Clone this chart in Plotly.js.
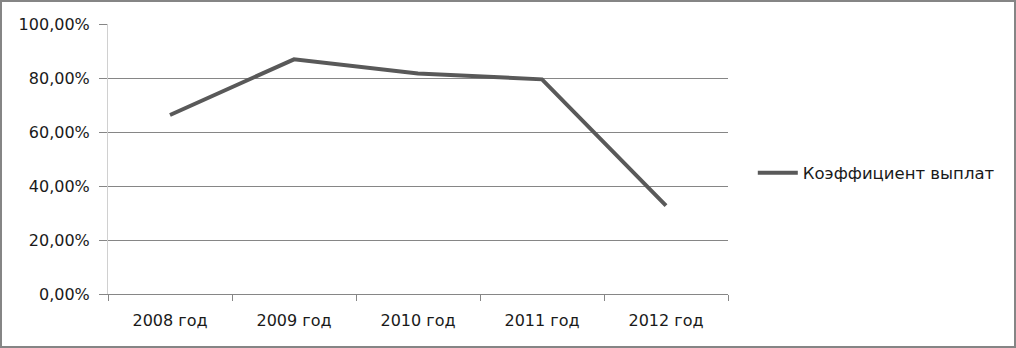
<!DOCTYPE html>
<html>
<head>
<meta charset="utf-8">
<script src="https://cdn.plot.ly/plotly-3.0.1.min.js"></script>
<style>
html,body{margin:0;padding:0;background:#fff;}
#wrap{position:relative;width:1016px;height:348px;}
#chart{width:1016px;height:348px;}
#frame{position:absolute;left:0;top:0;width:1012px;height:344px;border:2px solid #858585;pointer-events:none;}
</style>
</head>
<body>
<div id="wrap"><div id="chart"></div><div id="frame"></div></div>
<script>
const categories = ["2008 год", "2009 год", "2010 год", "2011 год", "2012 год"];
const seriesName = "Коэффициент выплат";
const payoutRatio = [0.663, 0.869, 0.817, 0.795, 0.327];
const yTickValues = [0, 0.2, 0.4, 0.6, 0.8, 1.0];
const yTickLabels = ["0,00%", "20,00%", "40,00%", "60,00%", "80,00%", "100,00%"];

const tf = {family: "DejaVu Sans", size: 16, color: "#1a1a1a"};

Plotly.newPlot("chart", [{
  type: "scatter",
  mode: "lines",
  x: categories,
  y: payoutRatio,
  name: seriesName,
  line: {color: "#595959", width: 4},
  showlegend: true
}], {
  width: 1016, height: 348,
  margin: {l: 108, r: 288, t: 24, b: 54},
  paper_bgcolor: "#fff", plot_bgcolor: "#fff",
  font: tf,
  xaxis: {
    type: "category",
    range: [-0.5, categories.length - 0.5],
    tickson: "boundaries",
    ticks: "outside", ticklen: 6, tickcolor: "#868686",
    showline: true, linecolor: "#868686", linewidth: 1,
    showgrid: false, zeroline: false,
    tickfont: tf,
    ticklabelstandoff: 12,
    fixedrange: true
  },
  yaxis: {
    range: [0, 1],
    tickvals: yTickValues, ticktext: yTickLabels,
    ticks: "outside", ticklen: 8, tickcolor: "#868686",
    showline: true, linecolor: "#d0d0d0", linewidth: 1,
    showgrid: true, gridcolor: "#868686", gridwidth: 1,
    zeroline: false,
    tickfont: tf,
    ticklabelstandoff: 6,
    fixedrange: true
  },
  showlegend: true,
  legend: {
    x: 1.04, xanchor: "left",
    y: 0.448, yanchor: "middle",
    font: {family: "DejaVu Sans", size: 16.5, color: "#1a1a1a"},
    bgcolor: "rgba(0,0,0,0)",
    itemwidth: 40
  }
}, {displayModeBar: false, staticPlot: true});
</script>
</body>
</html>
